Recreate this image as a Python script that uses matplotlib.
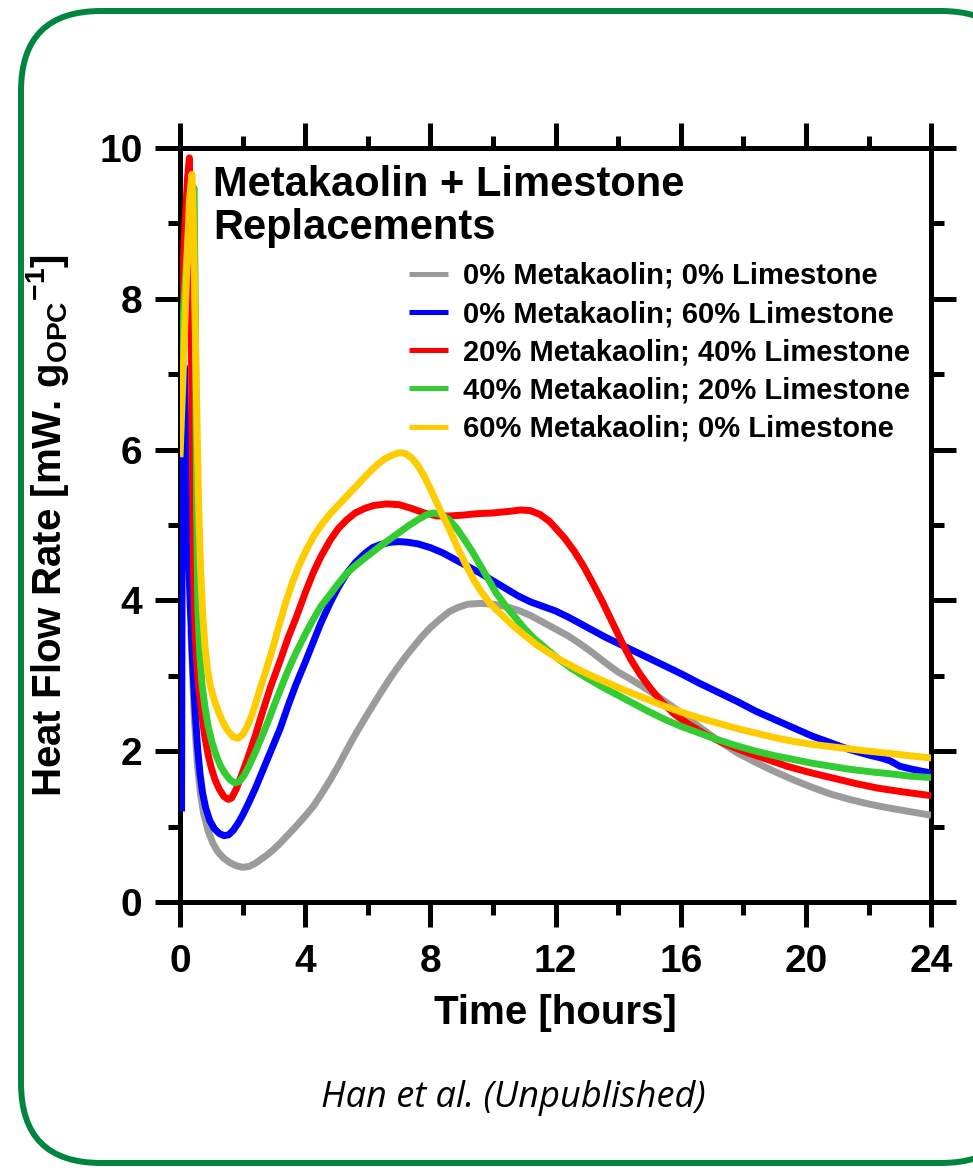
import matplotlib
matplotlib.use("Agg")
import matplotlib.pyplot as plt
from matplotlib.patches import FancyBboxPatch
from matplotlib.ticker import MultipleLocator

plt.rcParams['font.family'] = ['Liberation Sans', 'DejaVu Sans']
plt.rcParams['font.weight'] = 'bold'
plt.rcParams['axes.labelweight'] = 'bold'
plt.rcParams['mathtext.fontset'] = 'custom'
plt.rcParams['mathtext.bf'] = 'Liberation Sans:bold'
plt.rcParams['mathtext.rm'] = 'Liberation Sans:bold'
plt.rcParams['mathtext.default'] = 'bf'

# isothermal calorimetry, heat flow vs time (hours)
t_ref = [0.35, 0.45, 0.55, 0.65, 0.75, 0.9, 1.05, 1.2, 1.4, 1.6, 1.8, 2.0, 2.2, 2.4,
         2.6, 2.8, 3.0, 3.2, 3.45, 3.7, 4.0, 4.26, 4.5, 4.8, 5.05, 5.32, 5.6, 5.9,
         6.15, 6.39, 6.65, 6.9, 7.2, 7.45, 7.75, 8.0, 8.3, 8.6, 8.9, 9.2, 9.6,
         10.0, 10.4, 10.8, 11.2, 11.6, 12.0, 12.4, 12.8, 13.2, 13.6, 14.0, 14.5,
         15.0, 15.5, 16.0, 16.6, 17.2, 17.8, 18.4, 19.0, 19.6, 20.2, 20.8, 21.4,
         22.0, 22.6, 23.3, 24.0]
q_ref = [3.6, 2.5, 1.85, 1.45, 1.18, 0.94, 0.78, 0.67, 0.58, 0.52, 0.48, 0.46,
         0.47, 0.51, 0.57, 0.63, 0.7, 0.78, 0.89, 1.0, 1.14, 1.27, 1.42, 1.62, 1.8,
         2.01, 2.22, 2.43, 2.6, 2.76, 2.93, 3.08, 3.25, 3.38, 3.53, 3.64, 3.75,
         3.85, 3.91, 3.95, 3.96, 3.95, 3.92, 3.87, 3.8, 3.71, 3.62, 3.53, 3.42,
         3.3, 3.17, 3.05, 2.93, 2.8, 2.66, 2.51, 2.32, 2.14, 1.98, 1.85, 1.73,
         1.62, 1.52, 1.43, 1.36, 1.3, 1.25, 1.2, 1.15]

t_ls60 = [0.05, 0.07, 0.1, 0.14, 0.19, 0.25, 0.32, 0.4, 0.48, 0.56, 0.64, 0.72, 0.82,
          0.95, 1.1, 1.25, 1.4, 1.55, 1.7, 1.85, 2.0, 2.2, 2.4, 2.6, 2.8, 3.0, 3.2,
          3.45, 3.7, 4.0, 4.26, 4.5, 4.8, 5.05, 5.33, 5.6, 5.9, 6.15, 6.4, 6.7,
          7.0, 7.3, 7.6, 8.0, 8.4, 8.8, 9.2, 9.6, 10.0, 10.4, 10.8, 11.2, 11.6,
          12.0, 12.4, 12.8, 13.2, 13.6, 14.0, 14.5, 15.0, 15.5, 16.0, 16.6, 17.2,
          17.8, 18.4, 19.0, 19.6, 20.2, 20.8, 21.4, 22.0, 22.4, 22.7, 23.0, 23.4,
          24.0]
q_ls60 = [1.2, 5.0, 7.0, 7.1, 6.2, 5.0, 4.0, 3.2, 2.55, 2.05, 1.7, 1.45, 1.25,
          1.08, 0.97, 0.91, 0.88, 0.89, 0.95, 1.04, 1.15, 1.32, 1.5, 1.7, 1.9,
          2.1, 2.3, 2.6, 2.88, 3.18, 3.45, 3.7, 3.97, 4.17, 4.36, 4.5, 4.62, 4.7,
          4.74, 4.77, 4.78, 4.77, 4.75, 4.7, 4.63, 4.54, 4.45, 4.36, 4.26, 4.16,
          4.06, 3.98, 3.92, 3.86, 3.78, 3.69, 3.6, 3.51, 3.43, 3.33, 3.23, 3.13,
          3.03, 2.9, 2.78, 2.66, 2.53, 2.42, 2.31, 2.2, 2.11, 2.02, 1.95, 1.91,
          1.87, 1.8, 1.76, 1.71]

t_mk20 = [0, 0.08, 0.16, 0.24, 0.3, 0.34, 0.38, 0.43, 0.48, 0.54, 0.6, 0.68, 0.78,
          0.9, 1.0, 1.12, 1.25, 1.4, 1.54, 1.65, 1.8, 2.0, 2.2, 2.4, 2.66, 2.9,
          3.2, 3.45, 3.7, 4.0, 4.26, 4.5, 4.8, 5.05, 5.33, 5.6, 5.9, 6.2, 6.6, 7.0,
          7.4, 7.8, 8.2, 8.6, 9.0, 9.5, 10.0, 10.5, 10.9, 11.2, 11.5, 11.8, 12.0,
          12.3, 12.6, 12.9, 13.2, 13.5, 13.8, 14.1, 14.4, 14.7, 15.0, 15.4, 15.8,
          16.2, 16.8, 17.4, 18.0, 18.7, 19.4, 20.1, 20.9, 21.6, 22.3, 23.1, 24.0]
q_mk20 = [7.55, 8.3, 9.0, 9.6, 9.87, 8.6, 6.6, 4.4, 3.6, 3.15, 2.85, 2.55, 2.22,
          1.95, 1.78, 1.62, 1.5, 1.4, 1.36, 1.38, 1.5, 1.72, 1.95, 2.2, 2.55,
          2.86, 3.2, 3.5, 3.76, 4.1, 4.37, 4.58, 4.8, 4.95, 5.07, 5.16, 5.22,
          5.26, 5.28, 5.27, 5.22, 5.16, 5.12, 5.12, 5.13, 5.15, 5.16, 5.18, 5.2,
          5.19, 5.14, 5.05, 4.96, 4.82, 4.65, 4.45, 4.22, 3.98, 3.72, 3.46, 3.22,
          3.02, 2.85, 2.65, 2.49, 2.37, 2.22, 2.1, 2.0, 1.9, 1.8, 1.72, 1.64,
          1.57, 1.51, 1.46, 1.41]

t_mk40 = [0, 0.12, 0.25, 0.38, 0.45, 0.49, 0.53, 0.57, 0.63, 0.7, 0.8, 0.9, 1.02,
          1.15, 1.3, 1.45, 1.6, 1.75, 1.9, 2.05, 2.2, 2.4, 2.6, 2.8, 3.0, 3.2,
          3.45, 3.7, 4.0, 4.26, 4.5, 4.8, 5.05, 5.33, 5.6, 5.9, 6.15, 6.4, 6.7,
          7.0, 7.3, 7.6, 7.85, 8.1, 8.35, 8.6, 8.85, 9.1, 9.35, 9.6, 9.85, 10.1,
          10.4, 10.7, 11.0, 11.3, 11.7, 12.1, 12.5, 13.0, 13.5, 14.0, 14.5, 15.0,
          15.5, 16.0, 16.6, 17.2, 17.8, 18.4, 19.0, 19.6, 20.2, 20.8, 21.4, 22.0,
          22.7, 23.3, 24.0]
q_mk40 = [6.77, 7.9, 8.8, 9.35, 9.47, 7.8, 5.2, 3.9, 3.3, 2.9, 2.58, 2.33, 2.12,
          1.95, 1.8, 1.7, 1.62, 1.58, 1.6, 1.68, 1.8, 1.98, 2.18, 2.38, 2.6, 2.81,
          3.07, 3.3, 3.55, 3.75, 3.92, 4.08, 4.22, 4.36, 4.46, 4.56, 4.64, 4.72,
          4.81, 4.9, 4.99, 5.07, 5.13, 5.16, 5.14, 5.07, 4.95, 4.8, 4.64, 4.46,
          4.28, 4.1, 3.93, 3.78, 3.63, 3.5, 3.36, 3.22, 3.1, 2.97, 2.85, 2.74,
          2.63, 2.52, 2.42, 2.33, 2.24, 2.15, 2.07, 2.0, 1.94, 1.89, 1.84, 1.8,
          1.76, 1.73, 1.7, 1.67, 1.65]

t_mk60 = [0, 0.1, 0.2, 0.3, 0.38, 0.43, 0.48, 0.54, 0.6, 0.66, 0.72, 0.8, 0.88,
          0.98, 1.1, 1.25, 1.4, 1.55, 1.7, 1.85, 2.0, 2.15, 2.3, 2.45, 2.6, 2.8,
          3.0, 3.2, 3.4, 3.6, 3.8, 4.05, 4.3, 4.55, 4.8, 5.05, 5.3, 5.55, 5.8,
          6.05, 6.3, 6.55, 6.8, 7.0, 7.2, 7.4, 7.6, 7.8, 8.0, 8.2, 8.4, 8.6, 8.85,
          9.1, 9.35, 9.6, 9.9, 10.2, 10.6, 11.0, 11.4, 11.8, 12.2, 12.7, 13.2,
          13.7, 14.2, 14.8, 15.4, 16.0, 16.6, 17.2, 17.8, 18.4, 19.0, 19.6, 20.2,
          20.8, 21.4, 22.0, 22.7, 23.3, 24.0]
q_mk60 = [5.9, 7.0, 8.2, 9.3, 9.65, 9.0, 7.8, 6.4, 5.2, 4.4, 3.85, 3.38, 3.08,
          2.85, 2.67, 2.5, 2.36, 2.26, 2.19, 2.17, 2.22, 2.33, 2.48, 2.68, 2.88,
          3.14, 3.42, 3.72, 4.0, 4.25, 4.46, 4.68, 4.87, 5.02, 5.15, 5.26, 5.37,
          5.48, 5.59, 5.7, 5.8, 5.88, 5.93, 5.96, 5.95, 5.89, 5.79, 5.65, 5.48,
          5.3, 5.12, 4.95, 4.72, 4.5, 4.3, 4.13, 3.96, 3.84, 3.68, 3.54, 3.41,
          3.3, 3.2, 3.09, 2.99, 2.9, 2.81, 2.71, 2.61, 2.52, 2.44, 2.37, 2.3,
          2.24, 2.18, 2.13, 2.09, 2.06, 2.03, 2.0, 1.97, 1.94, 1.91]

labels = ['0% Metakaolin; 0% Limestone',
          '0% Metakaolin; 60% Limestone',
          '20% Metakaolin; 40% Limestone',
          '40% Metakaolin; 20% Limestone',
          '60% Metakaolin; 0% Limestone']
colors = ['#9b9b9b', '#0000ff', '#ff0000', '#33cc33', '#ffcc00']
series = [(t_ref, q_ref), (t_ls60, q_ls60), (t_mk20, q_mk20),
          (t_mk40, q_mk40), (t_mk60, q_mk60)]

fig = plt.figure(figsize=(9.73, 11.74), dpi=100)

# rounded green frame, drawn in pixel units
bg = fig.add_axes([0, 0, 1, 1], zorder=0)
bg.set_xlim(0, 973)
bg.set_ylim(1174, 0)
bg.axis('off')
frame = FancyBboxPatch((21, 11), 1000, 1152, boxstyle="round,pad=0,rounding_size=80",
                       fc='white', ec='#00853e', lw=4.3)
bg.add_patch(frame)
bg.text(513, 1098, 'Han et al. (Unpublished)', family='Open Sans', style='italic',
        weight='normal', fontsize=26, ha='center', va='center')

ax = fig.add_axes([0.185, 0.2317, 0.772, 0.6422], zorder=1)
ax.patch.set_alpha(0)

for (t, q), c, lab in zip(series, colors, labels):
    ax.plot(t, q, color=c, lw=5, label=lab, solid_joinstyle='round',
            solid_capstyle='butt', zorder=3)

ax.set_xlim(0, 24)
ax.set_ylim(0, 10)
ax.xaxis.set_major_locator(MultipleLocator(4))
ax.xaxis.set_minor_locator(MultipleLocator(2))
ax.yaxis.set_major_locator(MultipleLocator(2))
ax.yaxis.set_minor_locator(MultipleLocator(1))

for s in ax.spines.values():
    s.set_linewidth(3.6)
ax.tick_params(which='both', direction='out', top=True, right=True, width=3.6,
               labelsize=28)
ax.tick_params(which='major', length=18)
ax.tick_params(which='minor', length=9)
ax.tick_params(axis='x', pad=12)
ax.tick_params(axis='y', pad=9)

ax.set_xlabel('Time [hours]', fontsize=29, fontweight='bold', labelpad=10)
ax.set_ylabel('Heat Flow Rate [mW. g$_{OPC}$$^{-1}$]', fontsize=29,
              fontweight='bold', labelpad=20)

ax.text(0.044, 0.978, 'Metakaolin + Limestone\nReplacements', transform=ax.transAxes,
        fontsize=30, ha='left', va='top', linespacing=1.12)

leg = ax.legend(loc='upper left', bbox_to_anchor=(0.305, 0.849), frameon=False,
                fontsize=21, handlelength=1.35, handletextpad=0.5,
                labelspacing=0.35, borderpad=0, borderaxespad=0)
for h in leg.get_lines():
    h.set_linewidth(3.6)

fig.savefig('out.png', dpi=100)
